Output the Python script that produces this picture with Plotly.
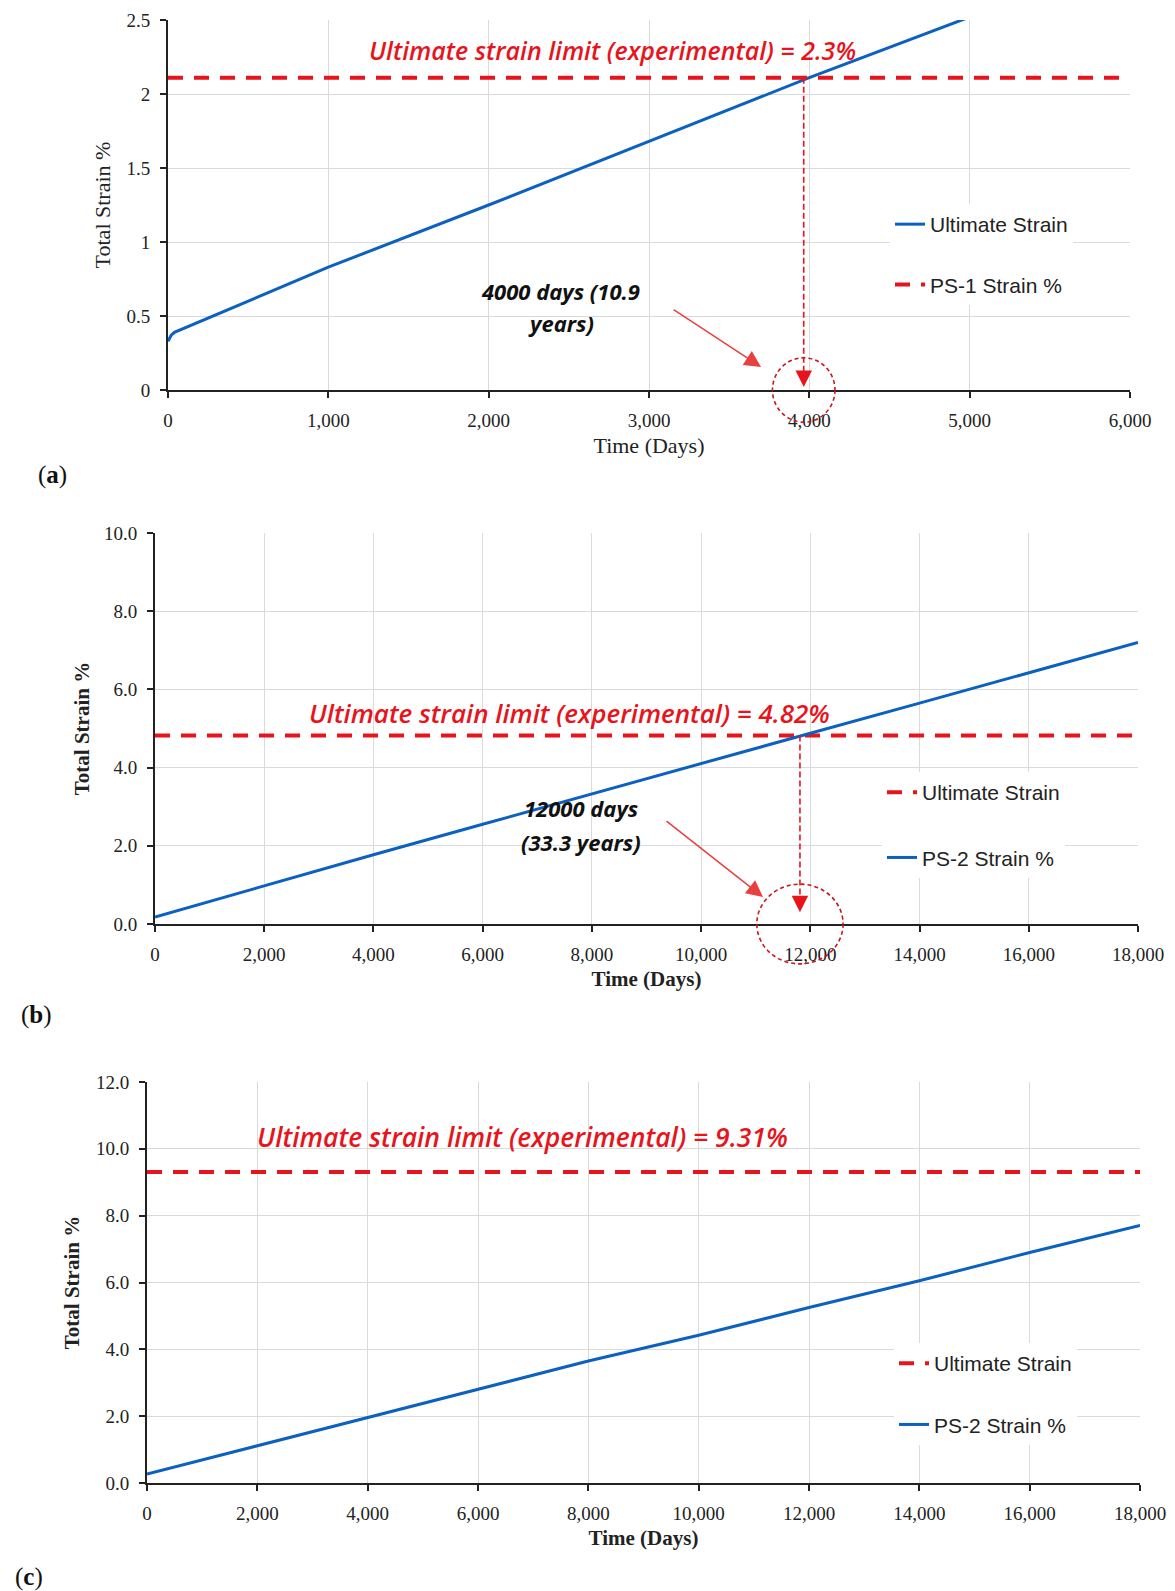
import plotly.graph_objects as go

PAGE_W, PAGE_H = 1175, 1591
OFF = 8  # default page margin around the figure div
W, H = PAGE_W - OFF, PAGE_H - OFF

# ---------------- data ----------------
# Panel (a)
a_days = [0, 20, 40, 1000, 2000, 3000, 4000, 5000]
a_ultimate = [0.33, 0.37, 0.39, 0.83, 1.25, 1.68, 2.11, 2.52]
a_limit = 2.11
a_limit_days = [0, 6000]
a_cross_day = 3965
a_label = "Ultimate strain limit (experimental) = 2.3%"
a_note = ["4000 days (10.9", "years)"]
a_xticks = [0, 1000, 2000, 3000, 4000, 5000, 6000]
a_yticks = [0, 0.5, 1, 1.5, 2, 2.5]

# Panel (b)
b_days = [0, 2000, 4000, 6000, 8000, 10000, 12000, 14000, 16000, 18000]
b_ps2 = [0.18, 0.98, 1.77, 2.55, 3.33, 4.10, 4.88, 5.65, 6.42, 7.20]
b_limit = 4.82
b_limit_days = [0, 18000]
b_cross_day = 11810
b_label = "Ultimate strain limit (experimental) = 4.82%"
b_note = ["12000 days", "(33.3 years)"]
b_xticks = [0, 2000, 4000, 6000, 8000, 10000, 12000, 14000, 16000, 18000]
b_yticks = [0, 2, 4, 6, 8, 10]

# Panel (c)
c_days = [0, 2000, 4000, 6000, 8000, 10000, 12000, 14000, 16000, 18000]
c_ps2 = [0.27, 1.12, 1.95, 2.80, 3.65, 4.42, 5.25, 6.05, 6.90, 7.71]
c_limit = 9.31
c_limit_days = [0, 18000]
c_label = "Ultimate strain limit (experimental) = 9.31%"
c_xticks = b_xticks
c_yticks = [0, 2, 4, 6, 8, 10, 12]

# ---------------- style ----------------
BLUE = "#0C60C0"
RED = "#E8141C"
ARROW_RED = "#E8403F"
CIRCLE_RED = "#C4161C"
GRID = "#DADADA"
AXIS = "#222222"
SERIF = "Liberation Serif"
SANS = "Liberation Sans"
ANNO = "Open Sans"
DASH = "15px,11px"


def px(x):
    return (x - OFF) / W


def py(y):
    return 1 - (y - OFF) / H


def xdom(l, r):
    return [px(l), px(r)]


def ydom(top, bottom):
    return [py(bottom), py(top)]


fig = go.Figure()

# Panel a traces
fig.add_trace(go.Scatter(x=a_days, y=a_ultimate, mode="lines", name="Ultimate Strain",
                         line=dict(color=BLUE, width=3), xaxis="x", yaxis="y",
                         legend="legend", legendgroup="a1"))
fig.add_trace(go.Scatter(x=a_limit_days, y=[a_limit] * 2, mode="lines", name="PS-1 Strain %",
                         line=dict(color=RED, width=4, dash=DASH), xaxis="x", yaxis="y",
                         legend="legend", legendgroup="a2"))
fig.add_trace(go.Scatter(x=[a_cross_day, a_cross_day], y=[a_limit, 0.06], mode="lines",
                         line=dict(color=RED, width=1.6, dash="6px,3px"), showlegend=False,
                         xaxis="x", yaxis="y", hoverinfo="skip"))

# Panel b traces
fig.add_trace(go.Scatter(x=b_limit_days, y=[b_limit] * 2, mode="lines", name="Ultimate Strain",
                         line=dict(color=RED, width=4, dash=DASH), xaxis="x2", yaxis="y2",
                         legend="legend2", legendgroup="b1"))
fig.add_trace(go.Scatter(x=b_days, y=b_ps2, mode="lines", name="PS-2 Strain %",
                         line=dict(color=BLUE, width=3), xaxis="x2", yaxis="y2",
                         legend="legend2", legendgroup="b2"))
fig.add_trace(go.Scatter(x=[b_cross_day, b_cross_day], y=[b_limit, 0.45], mode="lines",
                         line=dict(color=RED, width=1.6, dash="6px,3px"), showlegend=False,
                         xaxis="x2", yaxis="y2", hoverinfo="skip"))

# Panel c traces
fig.add_trace(go.Scatter(x=c_limit_days, y=[c_limit] * 2, mode="lines", name="Ultimate Strain",
                         line=dict(color=RED, width=4, dash=DASH), xaxis="x3", yaxis="y3",
                         legend="legend3", legendgroup="c1"))
fig.add_trace(go.Scatter(x=c_days, y=c_ps2, mode="lines", name="PS-2 Strain %",
                         line=dict(color=BLUE, width=3), xaxis="x3", yaxis="y3",
                         legend="legend3", legendgroup="c2"))


def xaxis(dom, rng, ticks, bold, anchor):
    return dict(domain=dom, range=rng, tickvals=ticks, tickformat=",d", anchor=anchor,
                automargin=False,
                showline=True, linecolor=AXIS, linewidth=2, showgrid=True, gridcolor=GRID,
                gridwidth=1, zeroline=False, ticks="outside", ticklen=6, tickwidth=2,
                tickcolor=AXIS, ticklabelstandoff=6,
                tickfont=dict(family=SERIF, size=19, color="#222"),
                title=dict(text="<b>Time (Days)</b>" if bold else "Time (Days)", standoff=8,
                           font=dict(family=SERIF, size=21 if bold else 22, color="#222")),
                fixedrange=True)


def yaxis(dom, rng, ticks, fmt, bold, anchor, standoff):
    return dict(domain=dom, range=rng, tickvals=ticks, tickformat=fmt, anchor=anchor,
                automargin=False,
                showline=True, linecolor=AXIS, linewidth=2, showgrid=True, gridcolor=GRID,
                gridwidth=1, zeroline=False, ticks="outside", ticklen=6, tickwidth=2,
                tickcolor=AXIS, ticklabelstandoff=6,
                tickfont=dict(family=SERIF, size=19, color="#222"),
                title=dict(text="<b>Total Strain %</b>" if bold else "Total Strain %",
                           standoff=standoff,
                           font=dict(family=SERIF, size=21 if bold else 22, color="#222")),
                fixedrange=True)


legend_common = dict(xanchor="left", yanchor="top", bgcolor="white", borderwidth=0,
                     traceorder="grouped", font=dict(family=SANS, size=21, color="#222"))

fig.update_layout(
    width=W, height=H, margin=dict(l=0, r=0, t=0, b=0, autoexpand=False),
    paper_bgcolor="white", plot_bgcolor="white",
    xaxis=xaxis(xdom(168, 1130), [0, 6000], a_xticks, False, "y"),
    yaxis=yaxis(ydom(20, 390), [0, 2.5], a_yticks, "", False, "x", 10),
    xaxis2=xaxis(xdom(155, 1138), [0, 18000], b_xticks, True, "y2"),
    yaxis2=yaxis(ydom(533, 924), [0, 10], b_yticks, ".1f", True, "x2", 9),
    xaxis3=xaxis(xdom(147, 1140), [0, 18000], c_xticks, True, "y3"),
    yaxis3=yaxis(ydom(1082, 1483), [0, 12], c_yticks, ".1f", True, "x3", 11),
    legend=dict(x=px(890), y=py(204), tracegroupgap=30, **legend_common),
    legend2=dict(x=px(882), y=py(772), tracegroupgap=35, **legend_common),
    legend3=dict(x=px(894), y=py(1343), tracegroupgap=31, **legend_common),
    showlegend=True,
)


def red_font(size):
    return dict(family=ANNO, size=size, color=RED, style="italic", weight=600)


note_font = dict(family=ANNO, size=22, color="#111", style="italic", weight="bold")
label_font = dict(family=SERIF, size=25, color="#111")

annotations = [
    # red limit labels
    dict(x=2775, y=2.30, xref="x", yref="y", text=a_label, showarrow=False, font=red_font(25)),
    dict(x=7590, y=5.40, xref="x2", yref="y2", text=b_label, showarrow=False, font=red_font(26)),
    dict(x=6800, y=10.36, xref="x3", yref="y3", text=c_label, showarrow=False, font=red_font(26.5)),
    # notes
    dict(x=2450, y=0.67, xref="x", yref="y", text=a_note[0], showarrow=False, font=note_font),
    dict(x=2450, y=0.453, xref="x", yref="y", text=a_note[1], showarrow=False, font=note_font),
    dict(x=7800, y=2.97, xref="x2", yref="y2", text=b_note[0], showarrow=False, font=note_font),
    dict(x=7800, y=2.10, xref="x2", yref="y2", text=b_note[1], showarrow=False, font=note_font),
    # solid red pointer arrows
    dict(x=3699, y=0.155, ax=3144, ay=0.55, xref="x", yref="y", axref="x", ayref="y",
         text="", showarrow=True, arrowhead=2, arrowsize=2.2, arrowwidth=1.5, arrowcolor=ARROW_RED),
    dict(x=11133, y=0.69, ax=9339, ay=2.66, xref="x2", yref="y2", axref="x2", ayref="y2",
         text="", showarrow=True, arrowhead=2, arrowsize=2.2, arrowwidth=1.5, arrowcolor=ARROW_RED),
    # heads of the dotted vertical arrows
    dict(x=a_cross_day, y=0.02, xref="x", yref="y", ax=0, ay=-14, text="", showarrow=True,
         arrowhead=2, arrowsize=2.2, arrowwidth=1.5, arrowcolor=RED),
    dict(x=b_cross_day, y=0.30, xref="x2", yref="y2", ax=0, ay=-14, text="", showarrow=True,
         arrowhead=2, arrowsize=2.2, arrowwidth=1.5, arrowcolor=RED),
    # panel labels
    dict(x=px(52), y=py(475), xref="paper", yref="paper", text="(<b>a</b>)",
         xanchor="center", yanchor="middle", showarrow=False, font=label_font),
    dict(x=px(36), y=py(1015), xref="paper", yref="paper", text="(<b>b</b>)",
         xanchor="center", yanchor="middle", showarrow=False, font=label_font),
    dict(x=px(29), y=py(1577), xref="paper", yref="paper", text="(<b>c</b>)",
         xanchor="center", yanchor="middle", showarrow=False, font=label_font),
]
fig.update_layout(annotations=annotations)

# dashed circles around the crossing day on the time axis
fig.add_shape(type="circle", xref="x", yref="y domain", x0=a_cross_day - 195, x1=a_cross_day + 195,
              y0=-0.087, y1=0.087, line=dict(color=CIRCLE_RED, width=1.6, dash="4px,3px"))
fig.add_shape(type="circle", xref="x2", yref="y2 domain", x0=b_cross_day - 790, x1=b_cross_day + 790,
              y0=-0.102, y1=0.102, line=dict(color=CIRCLE_RED, width=1.6, dash="4px,3px"))

fig.write_html("out.html")
